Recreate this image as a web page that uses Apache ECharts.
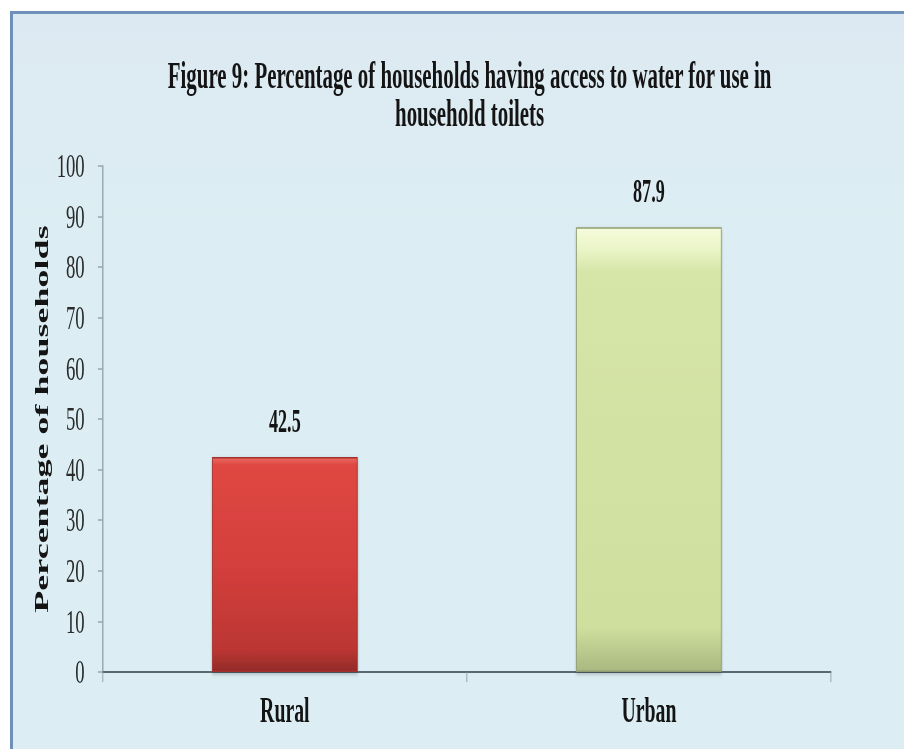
<!DOCTYPE html>
<html>
<head>
<meta charset="utf-8">
<script src="https://cdn.jsdelivr.net/npm/echarts@6/dist/echarts.min.js"></script>
<style>
  html, body { margin: 0; padding: 0; width: 904px; height: 749px; overflow: hidden; background: #ffffff; }
  #frame {
    position: absolute; left: 10px; top: 11px; width: 1000px; height: 800px;
    border-left: 3px solid #6f90b9; border-top: 3px solid #6f90b9;
    background: linear-gradient(#dde9f2, #dceef3 30%, #dceef3);
  }
  /* the figure uses a narrow serif face: the chart is laid out wide and condensed horizontally */
  #chart {
    position: absolute; left: 0; top: 0; width: 1644px; height: 749px;
    transform: scaleX(0.5499); transform-origin: 0 0;
  }
</style>
</head>
<body>
<div id="frame"></div>
<div id="chart"></div>
<script>
// Percentage of households having access to water for use in household toilets
const categories = ['Rural', 'Urban'];
const values = [42.5, 87.9];
const yTicks = { min: 0, max: 100, interval: 10 };
const titleText = 'Figure 9: Percentage of households having access to water for use in\nhousehold toilets';
const yAxisTitle = 'Percentage of households';

const serif = '"Liberation Serif", "Times New Roman", serif';

// bevel-like vertical shading for each bar
const barFills = [
  new echarts.graphic.LinearGradient(0, 0, 0, 1, [
    { offset: 0, color: '#ea6a60' },
    { offset: 0.035, color: '#df4742' },
    { offset: 0.5, color: '#d43f3c' },
    { offset: 0.9, color: '#bb3633' },
    { offset: 1, color: '#922b28' }
  ]),
  new echarts.graphic.LinearGradient(0, 0, 0, 1, [
    { offset: 0, color: '#f6fcdc' },
    { offset: 0.05, color: '#eaf4c6' },
    { offset: 0.1, color: '#d6e5a8' },
    { offset: 0.9, color: '#cfdf9e' },
    { offset: 1, color: '#a9b87f' }
  ])
];
const barBorders = ['#a3302d', '#8f9d72'];

const chart = echarts.init(document.getElementById('chart'), null, { renderer: 'svg' });

chart.setOption({
  backgroundColor: 'transparent',
  animation: false,
  title: {
    text: titleText,
    left: 849,
    top: 52,
    textAlign: 'center',
    textStyle: {
      fontFamily: serif,
      fontWeight: 'bold',
      fontSize: 38,
      lineHeight: 38,
      color: '#141414'
    }
  },
  grid: { left: 187, right: 133, top: 166, bottom: 77 },
  xAxis: {
    type: 'category',
    data: categories,
    axisLine: { lineStyle: { color: '#5b6872', width: 2 } },
    axisTick: { show: true, length: 10, lineStyle: { color: '#8a969e', width: 1.5 } },
    axisLabel: {
      margin: 20,
      fontFamily: serif,
      fontWeight: 'bold',
      fontSize: 36,
      color: '#141414'
    }
  },
  yAxis: {
    type: 'value',
    min: yTicks.min,
    max: yTicks.max,
    interval: yTicks.interval,
    name: yAxisTitle,
    nameLocation: 'middle',
    nameRotate: 90,
    nameGap: 84,
    nameTextStyle: {
      fontFamily: serif,
      fontWeight: 'bold',
      fontSize: 36,
      color: '#141414'
    },
    axisLine: { show: true, lineStyle: { color: '#84929b', width: 2 } },
    axisTick: { show: true, length: 9, lineStyle: { color: '#9aa5ac', width: 1.5 } },
    splitLine: { show: false },
    axisLabel: {
      margin: 33,
      fontFamily: serif,
      fontSize: 34,
      color: '#2a2a2a'
    }
  },
  series: [{
    type: 'bar',
    barWidth: '40%',
    data: values.map((v, i) => ({
      value: v,
      itemStyle: {
        color: barFills[i],
        borderColor: barBorders[i],
        borderWidth: 1.5,
        shadowColor: 'rgba(0,0,0,0.25)',
        shadowBlur: 4,
        shadowOffsetY: 2
      }
    })),
    label: {
      show: true,
      position: 'top',
      distance: 20,
      formatter: p => p.value.toFixed(1),
      fontFamily: serif,
      fontWeight: 'bold',
      fontSize: 33,
      color: '#141414'
    }
  }]
});
</script>
</body>
</html>
